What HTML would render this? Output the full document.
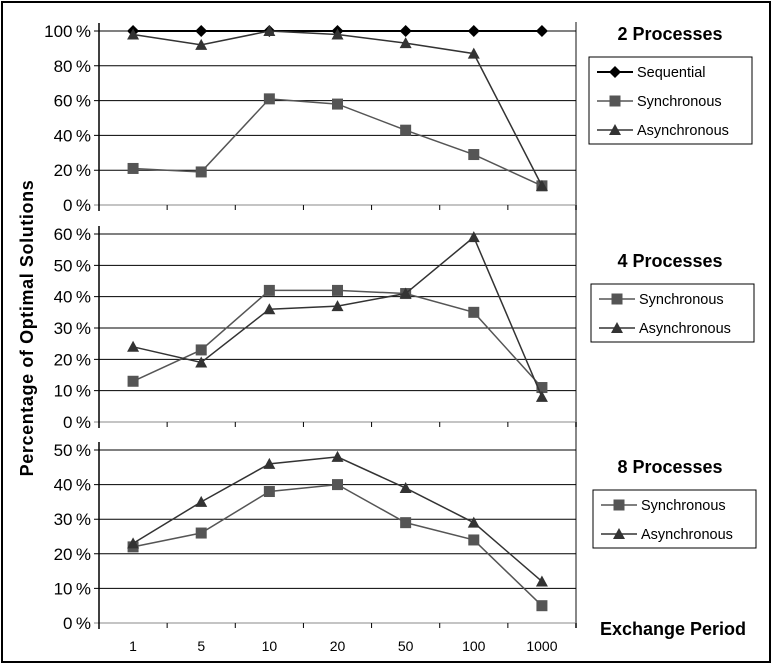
<!DOCTYPE html>
<html><head><meta charset="utf-8"><style>
body{margin:0;background:#fff}
svg{display:block;font-family:"Liberation Sans",Arial,sans-serif}
</style></head><body>
<svg id="c" width="773" height="665">
<rect x="2" y="2" width="768" height="660" fill="#fff" stroke="#000" stroke-width="2"/>
<text x="0" y="0" transform="translate(33,328) rotate(-90)" text-anchor="middle" font-size="18" font-weight="bold" letter-spacing="0.6">Percentage of Optimal  Solutions</text>
<text x="673" y="635" text-anchor="middle" font-size="18" font-weight="bold">Exchange Period</text>
<line x1="576" y1="22" x2="576" y2="628" stroke="#888" stroke-width="2"/>
<g id="g"></g>
</svg>
<script>
const categories=["1","5","10","20","50","100","1000"];
const p1Seq=[100,100,100,100,100,100,100];
const p1Sync=[21,19,61,58,43,29,11];
const p1Async=[98,92,100,98,93,87,11];
const p2Sync=[13,23,42,42,41,35,11];
const p2Async=[24,19,36,37,41,59,8];
const p3Sync=[22,26,38,40,29,24,5];
const p3Async=[23,35,46,48,39,29,12];
const p1Ticks=[0,20,40,60,80,100];
const p2Ticks=[0,10,20,30,40,50,60];
const p3Ticks=[0,10,20,30,40,50];
const NS="http://www.w3.org/2000/svg";
const g=document.getElementById('g');
function mk(t,a,txt){const e=document.createElementNS(NS,t);for(const k in a)e.setAttribute(k,a[k]);if(txt!=null)e.textContent=txt;g.appendChild(e);return e;}
const X0=99,X1=576,step=(X1-X0)/categories.length;
function xs(i){return X0+step*(i+0.5);}
function marker(type,x,y){
  let e;
  if(type==='d')e=mk('polygon',{points:`${x},${y-6} ${x+6},${y} ${x},${y+6} ${x-6},${y}`,fill:'#000'});
  else if(type==='s')e=mk('rect',{x:x-5.5,y:y-5.5,width:11,height:11,fill:'#555'});
  else e=mk('polygon',{points:`${x},${y-6} ${x+6},${y+5} ${x-6},${y+5}`,fill:'#333'});
  return e;
}
function panel(pid,yTop,yBot,max,ticks,series,title,legY,legX){
  const ys=v=>yBot-(v/max)*(yBot-yTop);
  let e;
  ticks.forEach(t=>{
    e=mk('line',{x1:X0-5,x2:X1,y1:ys(t),y2:ys(t),stroke:t===0?'#888':'#000','stroke-width':1});
    
    
    e=mk('text',{x:X0-8,y:ys(t)+6,'text-anchor':'end','font-size':17},t+'\u2009%');
    
    
  });
  e=mk('line',{x1:X0,x2:X0,y1:yTop-8,y2:yBot+6,stroke:'#000','stroke-width':1.5});
  
  
  for(let i=0;i<=categories.length;i++){
    e=mk('line',{x1:X0+step*i,x2:X0+step*i,y1:yBot,y2:yBot+5,stroke:'#000'});
    
    
  }
  series.forEach(s=>{
    const pts=s.data.map((v,i)=>xs(i)+','+ys(v)).join(' ');
    e=mk('polyline',{points:pts,fill:'none',stroke:s.col,'stroke-width':s.w});
    
    
    s.data.forEach((v,i)=>{
      e=marker(s.m,xs(i),ys(v));
      
      
    });
  });
  e=mk('text',{x:670,y:legY-17,'text-anchor':'middle','font-size':18,'font-weight':'bold'},title);
  
  
  e=mk('rect',{x:legX,y:legY,width:163,height:series.length*29,fill:'#fff',stroke:'#000'});
  
  
  series.forEach((s,k)=>{
    const ly=legY+15+k*29;
    e=mk('line',{x1:legX+8,x2:legX+44,y1:ly,y2:ly,stroke:s.col,'stroke-width':s.w});
    
    
    e=marker(s.m,legX+26,ly);
    
    
    e=mk('text',{x:legX+48,y:ly+5,'font-size':14.5},s.label);
    
    
  });
}
panel('p1',31,205,100,p1Ticks,[
 {name:'sequential',label:'Sequential',data:p1Seq,m:'d',col:'#000',w:2},
 {name:'synchronous',label:'Synchronous',data:p1Sync,m:'s',col:'#555',w:1.5},
 {name:'asynchronous',label:'Asynchronous',data:p1Async,m:'t',col:'#333',w:1.5}],'2 Processes',57,589);
panel('p2',234,422,60,p2Ticks,[
 {name:'synchronous',label:'Synchronous',data:p2Sync,m:'s',col:'#555',w:1.5},
 {name:'asynchronous',label:'Asynchronous',data:p2Async,m:'t',col:'#333',w:1.5}],'4 Processes',284,591);
panel('p3',450,623,50,p3Ticks,[
 {name:'synchronous',label:'Synchronous',data:p3Sync,m:'s',col:'#555',w:1.5},
 {name:'asynchronous',label:'Asynchronous',data:p3Async,m:'t',col:'#333',w:1.5}],'8 Processes',490,593);
categories.forEach((c,i)=>{
  const e=mk('text',{x:xs(i),y:651,'text-anchor':'middle','font-size':14},c);
  
  
});
</script>
</body></html>
